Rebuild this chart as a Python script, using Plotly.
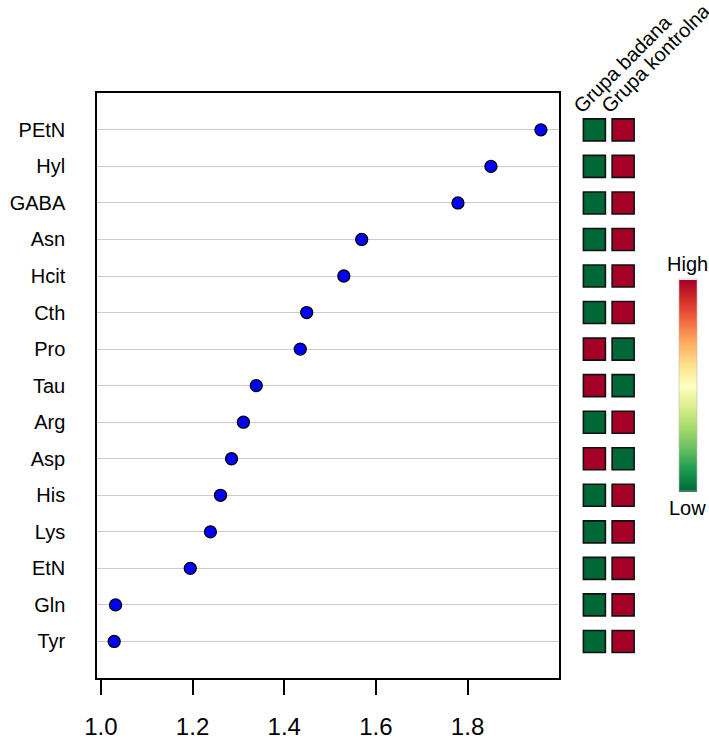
import plotly.graph_objects as go

# Metabolites ordered top to bottom, with their values
metabolites = ["PEtN", "Hyl", "GABA", "Asn", "Hcit", "Cth", "Pro", "Tau",
               "Arg", "Asp", "His", "Lys", "EtN", "Gln", "Tyr"]
values = [1.960, 1.851, 1.779, 1.569, 1.530, 1.449, 1.435, 1.339,
          1.311, 1.285, 1.261, 1.239, 1.195, 1.032, 1.029]

# Relative level per group (1 = high, 0 = low)
groups = ["Grupa badana", "Grupa kontrolna"]
level_badana = [0, 0, 0, 0, 0, 0, 1, 1, 0, 1, 0, 0, 0, 0, 0]
level_kontrolna = [1, 1, 1, 1, 1, 1, 0, 0, 1, 0, 1, 1, 1, 1, 1]

x_ticks = [1.0, 1.2, 1.4, 1.6, 1.8]
x_ticktext = ["1.0", "1.2", "1.4", "1.6", "1.8"]

W, H = 709, 740
FONT = "Liberation Sans, Arial, sans-serif"

def px(x):
    return x / W

def py(y):
    return 1 - y / H

n = len(metabolites)
rows = list(range(n, 0, -1))  # top row gets the highest position

rdylgn_r = ['#006837', '#1a9850', '#66bd63', '#a6d96a', '#d9ef8b', '#ffffbf',
            '#fee08b', '#fdae61', '#f46d43', '#d73027', '#a50026']
colorscale = [[i / (len(rdylgn_r) - 1), c] for i, c in enumerate(rdylgn_r)]

fig = go.Figure()

# Dot chart
fig.add_trace(go.Scatter(
    x=values, y=rows, mode="markers",
    marker=dict(size=12, color="#0000FF", line=dict(color="black", width=1.3)),
    xaxis="x", yaxis="y", showlegend=False, hoverinfo="x+text", text=metabolites,
))

# Group level tiles
tile_x, tile_y, tile_c = [], [], []
for j, lv in enumerate([level_badana, level_kontrolna]):
    for r, v in zip(rows, lv):
        tile_x.append(j + 1)
        tile_y.append(r)
        tile_c.append(v)

fig.add_trace(go.Scatter(
    x=tile_x, y=tile_y, mode="markers",
    marker=dict(
        symbol="square", size=22, color=tile_c, cmin=0, cmax=1,
        colorscale=colorscale, line=dict(color="#111111", width=1.6),
        showscale=True,
        colorbar=dict(
            x=px(678.5), xanchor="left", xpad=0,
            y=py(385.5), yanchor="middle", ypad=0,
            thickness=17.5, thicknessmode="pixels",
            len=212, lenmode="pixels",
            showticklabels=False, ticks="",
            outlinewidth=0.6, outlinecolor="#bbbbbb",
        ),
    ),
    xaxis="x2", yaxis="y2", showlegend=False, hoverinfo="skip",
))

ydom = [py(678), py(93.3)]

fig.update_layout(
    width=W, height=H, template="none",
    margin=dict(l=0, r=0, t=0, b=0, autoexpand=False),
    paper_bgcolor="white", plot_bgcolor="white",
    font=dict(family=FONT, color="black"),
    xaxis=dict(
        domain=[px(97), px(559)], range=[0.9915, 1.9995],
        tickvals=x_ticks, ticktext=x_ticktext, tickfont=dict(size=24),
        ticks="outside", ticklen=15, tickwidth=1.5, tickcolor="black",
        ticklabelstandoff=11,
        showline=True, linecolor="black", linewidth=1.5, mirror=True,
        showgrid=False, zeroline=False, automargin=False,
    ),
    yaxis=dict(
        domain=ydom, range=[0, n + 1],
        tickvals=rows, ticktext=metabolites, tickfont=dict(size=20),
        ticks="", ticklabelstandoff=26,
        showline=True, linecolor="black", linewidth=1.5, mirror=True,
        showgrid=True, gridcolor="#cccccc", gridwidth=1.4,
        zeroline=False, automargin=False,
    ),
    xaxis2=dict(
        domain=[px(580), px(637.5)], range=[0.5, 2.5], anchor="y2",
        visible=False, showgrid=False, zeroline=False,
    ),
    yaxis2=dict(
        domain=ydom, range=[0, n + 1], anchor="x2",
        visible=False, showgrid=False, zeroline=False,
    ),
)

# Rotated group headers
for j, g in enumerate(groups):
    fig.add_annotation(
        text=g, xref="paper", yref="paper",
        x=px(566 + j * 28.7), y=py(120), xanchor="left", yanchor="bottom",
        textangle=-45, showarrow=False, font=dict(size=20),
    )

# Colour key labels
fig.add_annotation(text="High", xref="paper", yref="paper", x=px(687), y=py(264),
                   xanchor="center", yanchor="middle", showarrow=False, font=dict(size=20))
fig.add_annotation(text="Low", xref="paper", yref="paper", x=px(687), y=py(508),
                   xanchor="center", yanchor="middle", showarrow=False, font=dict(size=20))

fig.write_html("out.html")
